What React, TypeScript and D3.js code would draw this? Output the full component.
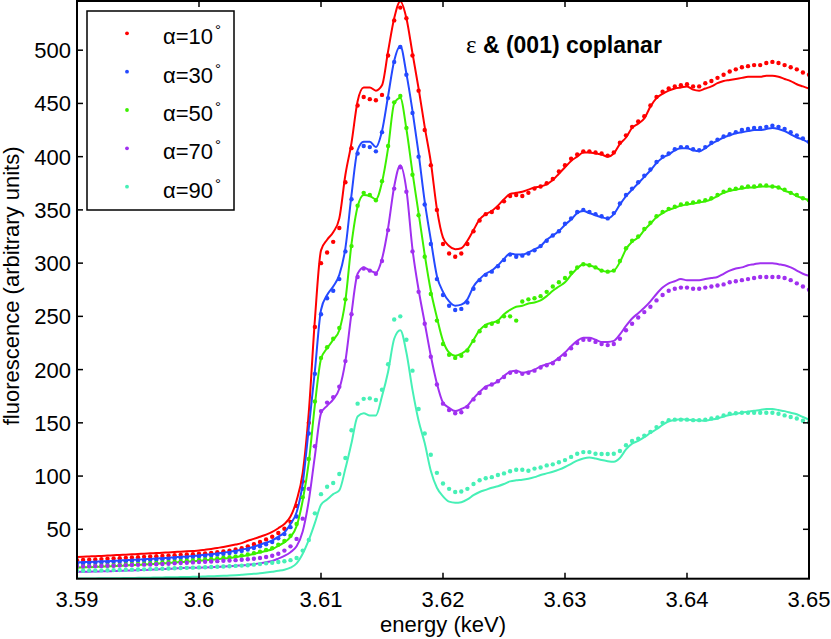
import React from 'react';
import * as d3 from 'd3';

// energy grid of the scan (keV)
const energy = [
  3.59, 3.5905, 3.591, 3.5915, 3.592, 3.5925, 3.593, 3.5935, 3.594, 3.5945,
  3.595, 3.5955, 3.596, 3.5965, 3.597, 3.5975, 3.598, 3.5985, 3.599, 3.5995,
  3.6, 3.6005, 3.601, 3.6015, 3.602, 3.6025, 3.603, 3.6035, 3.604, 3.6045,
  3.605, 3.6055, 3.606, 3.6065, 3.607, 3.6075, 3.608, 3.6085, 3.609, 3.6095,
  3.61, 3.6105, 3.611, 3.6115, 3.612, 3.6125, 3.613, 3.6135, 3.614, 3.6145,
  3.615, 3.6155, 3.616, 3.6165, 3.617, 3.6175, 3.618, 3.6185, 3.619, 3.6195,
  3.62, 3.6205, 3.621, 3.6215, 3.622, 3.6225, 3.623, 3.6235, 3.624, 3.6245,
  3.625, 3.6255, 3.626, 3.6265, 3.627, 3.6275, 3.628, 3.6285, 3.629, 3.6295,
  3.63, 3.6305, 3.631, 3.6315, 3.632, 3.6325, 3.633, 3.6335, 3.634, 3.6345,
  3.635, 3.6355, 3.636, 3.6365, 3.637, 3.6375, 3.638, 3.6385, 3.639, 3.6395,
  3.64, 3.6405, 3.641, 3.6415, 3.642, 3.6425, 3.643, 3.6435, 3.644, 3.6445,
  3.645, 3.6455, 3.646, 3.6465, 3.647, 3.6475, 3.648, 3.6485, 3.649, 3.6495,
  3.65,
];

// alpha = 10
const obs10 = [
  21, 21.2, 21.4, 21.7, 22, 22.3, 22.6, 22.9, 23.2, 23.5,
  23.8, 24.1, 24.4, 24.7, 25, 25.3, 25.6, 26, 26.3, 26.6,
  27, 27.4, 27.9, 28.5, 29.2, 30, 31, 32.2, 34, 36,
  38, 40.5, 43, 46.5, 50.5, 57, 72, 95, 150, 240,
  300, 310, 320, 333, 376, 408, 448, 456, 454, 453,
  458, 495, 528, 540, 530, 495, 462, 425, 392, 350,
  318, 309, 306, 309, 318, 330, 340, 346, 348, 352,
  358, 363, 364, 363, 366, 370, 372, 375, 379, 386,
  392, 398, 402, 405, 405, 404, 403, 401, 404, 413,
  420, 428, 433, 438, 448, 456, 461, 464, 466, 467,
  468, 466, 466, 469, 471, 474, 477, 480, 482, 484,
  485, 486, 486, 488, 489, 488, 486, 484, 482, 479,
  477,
];
const fit10 = [
  24, 24.2, 24.5, 24.8, 25, 25.3, 25.6, 25.9, 26.2, 26.5,
  26.8, 27.1, 27.4, 27.7, 28, 28.3, 28.6, 29, 29.3, 29.6,
  30, 30.8, 31.6, 32.5, 33.4, 34.5, 35.7, 37, 39.3, 41,
  43, 45, 47.5, 51, 55, 62, 77, 103, 160, 247,
  312, 322, 329, 342, 383, 413, 452, 465, 465, 462,
  467, 499, 530, 546, 530, 497, 464, 428, 395, 351,
  324, 316, 313, 314, 321, 331, 341, 346, 349, 354,
  360, 365, 366, 367, 369, 371, 372, 374, 378, 384,
  390, 396, 400, 404, 404, 403, 402, 400, 403, 412,
  418, 427, 431, 436, 447, 455, 459, 462, 464, 465,
  466, 463, 462, 464, 466, 469, 471, 472, 473, 474,
  475, 475, 475, 476, 476, 475, 473, 471, 468, 466,
  464,
];

// alpha = 30
const obs30 = [
  18, 18.2, 18.4, 18.6, 18.8, 19, 19.3, 19.6, 19.9, 20.2,
  20.5, 20.8, 21.1, 21.4, 21.8, 22.2, 22.6, 23, 23.4, 23.9,
  24.4, 24.9, 25.5, 26.2, 26.9, 27.7, 28.6, 29.7, 31, 32.5,
  34, 36, 38, 41.5, 45.5, 52, 62, 88, 140, 196,
  252, 267, 274, 285, 311, 360, 403, 410, 409, 405,
  423, 455, 489, 503, 477, 441, 400, 355, 318, 285,
  270, 260, 256, 257, 263, 276, 284, 289, 292, 297,
  303, 308, 306, 307, 309, 312, 316, 321, 326, 330,
  337, 342, 348, 350, 348, 346, 344, 342, 347, 356,
  364, 370, 376, 382, 388, 395, 400, 403, 407, 409,
  409, 407, 406, 409, 413, 416, 419, 421, 423, 425,
  426, 427, 427, 428, 429, 428, 426, 423, 420, 417,
  414,
];
const fit30 = [
  19, 19.2, 19.4, 19.6, 19.9, 20.1, 20.4, 20.7, 21, 21.3,
  21.6, 21.9, 22.2, 22.5, 22.9, 23.3, 23.7, 24.1, 24.5, 25,
  25.5, 26, 26.6, 27.3, 28, 28.8, 29.8, 31, 32, 33.7,
  35.5, 37.5, 39.5, 43, 47, 55, 66, 93, 145, 199,
  256, 270, 278, 289, 314, 364, 406, 414, 414, 409,
  424, 457, 490, 504, 478, 443, 403, 358, 322, 288,
  273, 264, 260, 261, 266, 278, 285, 290, 293, 298,
  304, 309, 308, 308, 310, 313, 316, 322, 326, 330,
  336, 341, 347, 349, 347, 345, 343, 342, 346, 355,
  363, 369, 375, 381, 387, 394, 399, 402, 406, 408,
  408, 406, 405, 408, 412, 415, 418, 420, 422, 423,
  424, 425, 425, 426, 427, 426, 424, 421, 418, 416,
  413,
];

// alpha = 50
const obs50 = [
  15, 15.2, 15.4, 15.6, 15.8, 16, 16.3, 16.6, 16.9, 17.2,
  17.5, 17.8, 18.1, 18.4, 18.8, 19.2, 19.6, 20, 20.4, 20.8,
  21.2, 21.7, 22.2, 22.7, 23.3, 23.9, 24.6, 25.4, 26.4, 27.6,
  29, 30.5, 32.3, 35.5, 39, 44, 55, 80, 116, 170,
  211, 221, 229, 239, 266, 316, 354, 366, 364, 359,
  377, 410, 451, 457, 427, 383, 345, 306, 271, 246,
  224, 214, 211, 213, 218, 227, 236, 241, 243, 245,
  250, 250, 246, 264, 266, 267, 269, 273, 278, 282,
  286, 291, 296, 299, 298, 296, 293, 292, 293, 302,
  314, 321, 325, 332, 338, 344, 348, 351, 353, 355,
  356, 357, 358, 359, 361, 364, 367, 369, 370, 371,
  372, 372, 373, 373, 372, 371, 369, 366, 364, 361,
  359,
];
const fit50 = [
  14, 14.2, 14.4, 14.6, 14.9, 15.1, 15.4, 15.7, 16, 16.3,
  16.6, 16.9, 17.2, 17.6, 18, 18.4, 18.8, 19.2, 19.6, 20,
  20.4, 20.9, 21.4, 21.9, 22.5, 23.1, 23.8, 24.6, 25.6, 26.8,
  28.3, 29.7, 31.3, 34.5, 37.7, 42.8, 53, 77, 113, 167,
  210, 220, 228, 237, 265, 318, 353, 364, 363, 360,
  376, 408, 450, 455, 426, 385, 347, 308, 274, 249,
  227, 216, 213, 215, 219, 228, 237, 242, 244, 246,
  252, 256, 259, 260, 262, 263, 265, 269, 274, 278,
  282, 289, 295, 299, 298, 296, 293, 292, 293, 301,
  313, 320, 324, 331, 337, 343, 347, 350, 352, 354,
  355, 356, 357, 358, 360, 363, 366, 368, 369, 370,
  371, 371, 372, 372, 372, 371, 368, 366, 363, 361,
  359,
];

// alpha = 70
const obs70 = [
  15, 15.1, 15.2, 15.4, 15.5, 15.7, 15.8, 16, 16.2, 16.4,
  16.6, 16.8, 17, 17.2, 17.4, 17.7, 18, 18.3, 18.6, 18.9,
  19.2, 19.5, 19.8, 20.1, 20.4, 20.7, 21, 21.4, 21.8, 22.3,
  23, 24, 25.2, 27, 30, 34, 41, 60, 88, 128,
  161, 169, 174, 184, 208, 252, 287, 295, 293, 290,
  302, 331, 370, 390, 367, 311, 273, 243, 212, 186,
  168, 162, 159, 160, 165, 172, 178, 183, 186, 189,
  193, 197, 198, 196, 197, 199, 202, 204, 206, 210,
  214, 220, 225, 228, 228, 226, 224, 223, 224, 229,
  237, 243, 249, 254, 259, 265, 270, 274, 276, 277,
  277, 276, 276, 277, 278, 279, 280, 282, 283, 284,
  285, 286, 287, 287, 287, 287, 286, 284, 281, 278,
  275,
];
const fit70 = [
  10, 10.1, 10.2, 10.3, 10.5, 10.6, 10.8, 11, 11.2, 11.4,
  11.6, 11.8, 12, 12.3, 12.6, 12.9, 13.2, 13.5, 13.8, 13.9,
  14, 14.2, 14.4, 14.7, 15, 15.3, 15.7, 16.1, 16.5, 17.2,
  18, 19, 20.3, 22.5, 25, 28.5, 34, 48, 77, 119,
  159, 166, 172, 182, 208, 253, 290, 296, 293, 291,
  304, 333, 372, 392, 369, 313, 275, 244, 213, 187,
  169, 164, 161, 163, 166, 173, 179, 184, 186, 189,
  194, 198, 199, 197, 198, 200, 203, 205, 207, 211,
  216, 222, 227, 230, 230, 228, 226, 226, 227, 233,
  241, 248, 253, 258, 264, 271, 277, 281, 283, 285,
  284, 284, 284, 285, 286, 287, 290, 293, 295, 296,
  298, 299, 300, 300, 300, 299, 298, 296, 293, 290,
  288,
];

// alpha = 90
const obs90 = [
  11, 11.1, 11.2, 11.3, 11.4, 11.5, 11.7, 11.8, 12, 12.1,
  12.3, 12.4, 12.6, 12.8, 13, 13.2, 13.4, 13.6, 13.8, 14,
  14.2, 14.4, 14.6, 14.8, 15, 15.3, 15.6, 15.9, 16.3, 16.8,
  17.3, 18, 18.6, 19.3, 20, 21, 23, 30, 40, 65,
  83, 90, 93.5, 102, 117, 143, 168, 172.5, 173, 171.5,
  181, 205, 247, 250, 228, 199, 163, 140, 120, 103,
  93, 88, 85, 85.5, 88, 92.5, 96, 98, 99, 101,
  102.5, 104.5, 106, 106, 105, 107, 108, 110, 111, 113,
  115, 118, 121, 122.5, 122.5, 121, 120.7, 120.7, 121, 123.5,
  129, 133, 135, 138, 141.5, 146, 150, 152.5, 153, 153,
  153, 152.5, 152.5, 153, 154, 155, 157, 158.5, 159, 159.5,
  159.5, 159.5, 159.5, 159.5, 159.5, 158.5, 157, 155.5, 154, 152,
  150.5,
];
const fit90 = [
  3.8, 3.8, 3.9, 3.9, 4, 4, 4.1, 4.1, 4.2, 4.3,
  4.4, 4.5, 4.6, 4.7, 4.8, 4.9, 5, 5.1, 5.2, 5.4,
  5.5, 5.7, 5.9, 6.1, 6.3, 6.6, 6.9, 7.3, 7.7, 8.2,
  8.7, 9.4, 10.2, 11, 12, 14, 18, 27, 40, 56,
  73, 78, 83, 86.5, 107, 131, 156, 159, 157, 157,
  175, 198, 229, 237, 216, 181, 152, 131, 105, 89,
  81, 76, 75, 75.5, 78, 82, 85, 87, 89, 90.5,
  92.5, 95, 96, 96.5, 97.5, 99, 101, 102.5, 104, 106,
  108.5, 111.5, 114.5, 116.5, 117.5, 116.5, 115, 114, 113.5, 117,
  125, 130.5, 133, 136.5, 140.5, 144, 148, 151.5, 152.7, 153.3,
  153, 152.7, 152.3, 152, 153, 154, 156, 157.4, 158.5, 159.5,
  160.5, 161.3, 162, 163, 163, 162, 161, 159.5, 158, 155.5,
  153,
];

const angles = ['10', '30', '50', '70', '90'];
const colors = ['#ff0000', '#2449ff', '#3cf000', '#a030f0', '#46f0b6'];
const observed = [obs10, obs30, obs50, obs70, obs90];
const fitted = [fit10, fit30, fit50, fit70, fit90];

const xTicks = [3.59, 3.6, 3.61, 3.62, 3.63, 3.64, 3.65];
const yTicks = [50, 100, 150, 200, 250, 300, 350, 400, 450, 500];

const FONT = 'Liberation Sans, Arial, Helvetica, sans-serif';

export default function App() {
  const left = 77, right = 809, top = 1, bottom = 578.7;
  const x = d3.scaleLinear().domain([3.59, 3.65]).range([left, right]);
  const y = d3.scaleLinear().domain([3.6, 546.2]).range([bottom, top]);

  const line = d3.line<number>()
    .x((_, i) => x(energy[i]))
    .y(d => y(d))
    .curve(d3.curveMonotoneX);

  const tickLen = 6;

  return (
    <svg width={831} height={639} style={{ position: 'absolute', left: 0, top: 0, background: '#fff' }}
      fontFamily={FONT}>
      <defs>
        <clipPath id="plot">
          <rect x={left} y={top} width={right - left} height={bottom - top} />
        </clipPath>
      </defs>

      {/* data: dots = measured, lines = fit */}
      <g clipPath="url(#plot)">
        {angles.map((a, s) => (
          <g key={a}>
            {observed[s].map((v, i) => (
              <circle key={i} cx={x(energy[i])} cy={y(v)} r={2.2} fill={colors[s]} />
            ))}
            <path d={line(fitted[s]) || ''} fill="none" stroke={colors[s]} strokeWidth={2} />
          </g>
        ))}
      </g>

      {/* ticks, all four sides, pointing in */}
      {xTicks.map(t => (
        <g key={'x' + t}>
          <line x1={x(t)} x2={x(t)} y1={bottom} y2={bottom - tickLen} stroke="#000" strokeWidth={1.5} />
          <line x1={x(t)} x2={x(t)} y1={top} y2={top + tickLen} stroke="#000" strokeWidth={1.5} />
          <text x={x(t)} y={607} textAnchor="middle" fontSize={22}>{String(t)}</text>
        </g>
      ))}
      {yTicks.map(t => (
        <g key={'y' + t}>
          <line x1={left} x2={left + tickLen} y1={y(t)} y2={y(t)} stroke="#000" strokeWidth={1.5} />
          <line x1={right} x2={right - tickLen} y1={y(t)} y2={y(t)} stroke="#000" strokeWidth={1.5} />
          <text x={71} y={y(t)} dy="0.36em" textAnchor="end" fontSize={22}>{t}</text>
        </g>
      ))}

      <rect x={left} y={top} width={right - left} height={bottom - top} fill="none" stroke="#000" strokeWidth={2} />

      <text x={(left + right) / 2} y={632} textAnchor="middle" fontSize={22}>energy (keV)</text>
      <text transform={`translate(19,${(top + bottom) / 2 - 4}) rotate(-90)`} textAnchor="middle" fontSize={22}>
        fluorescence (arbitrary units)
      </text>

      <text x={466} y={53} fontSize={23} fontWeight="bold">
        <tspan fontFamily="Liberation Serif, Times New Roman, serif" fontWeight="normal" fontSize={25}>ε</tspan>
        {' & (001) coplanar'}
      </text>

      {/* legend */}
      <rect x={87} y={11} width={147} height={199} fill="#fff" stroke="#000" strokeWidth={1.5} />
      {angles.map((a, s) => {
        const ry = 33.3 + s * 38.35;
        return (
          <g key={'l' + a}>
            <circle cx={127} cy={ry} r={1.9} fill={colors[s]} />
            <text x={163} y={ry + 11} fontSize={22}>
              {'α=' + a}
              <tspan dx={2} dy={-9} fontSize={15}>°</tspan>
            </text>
          </g>
        );
      })}
    </svg>
  );
}
